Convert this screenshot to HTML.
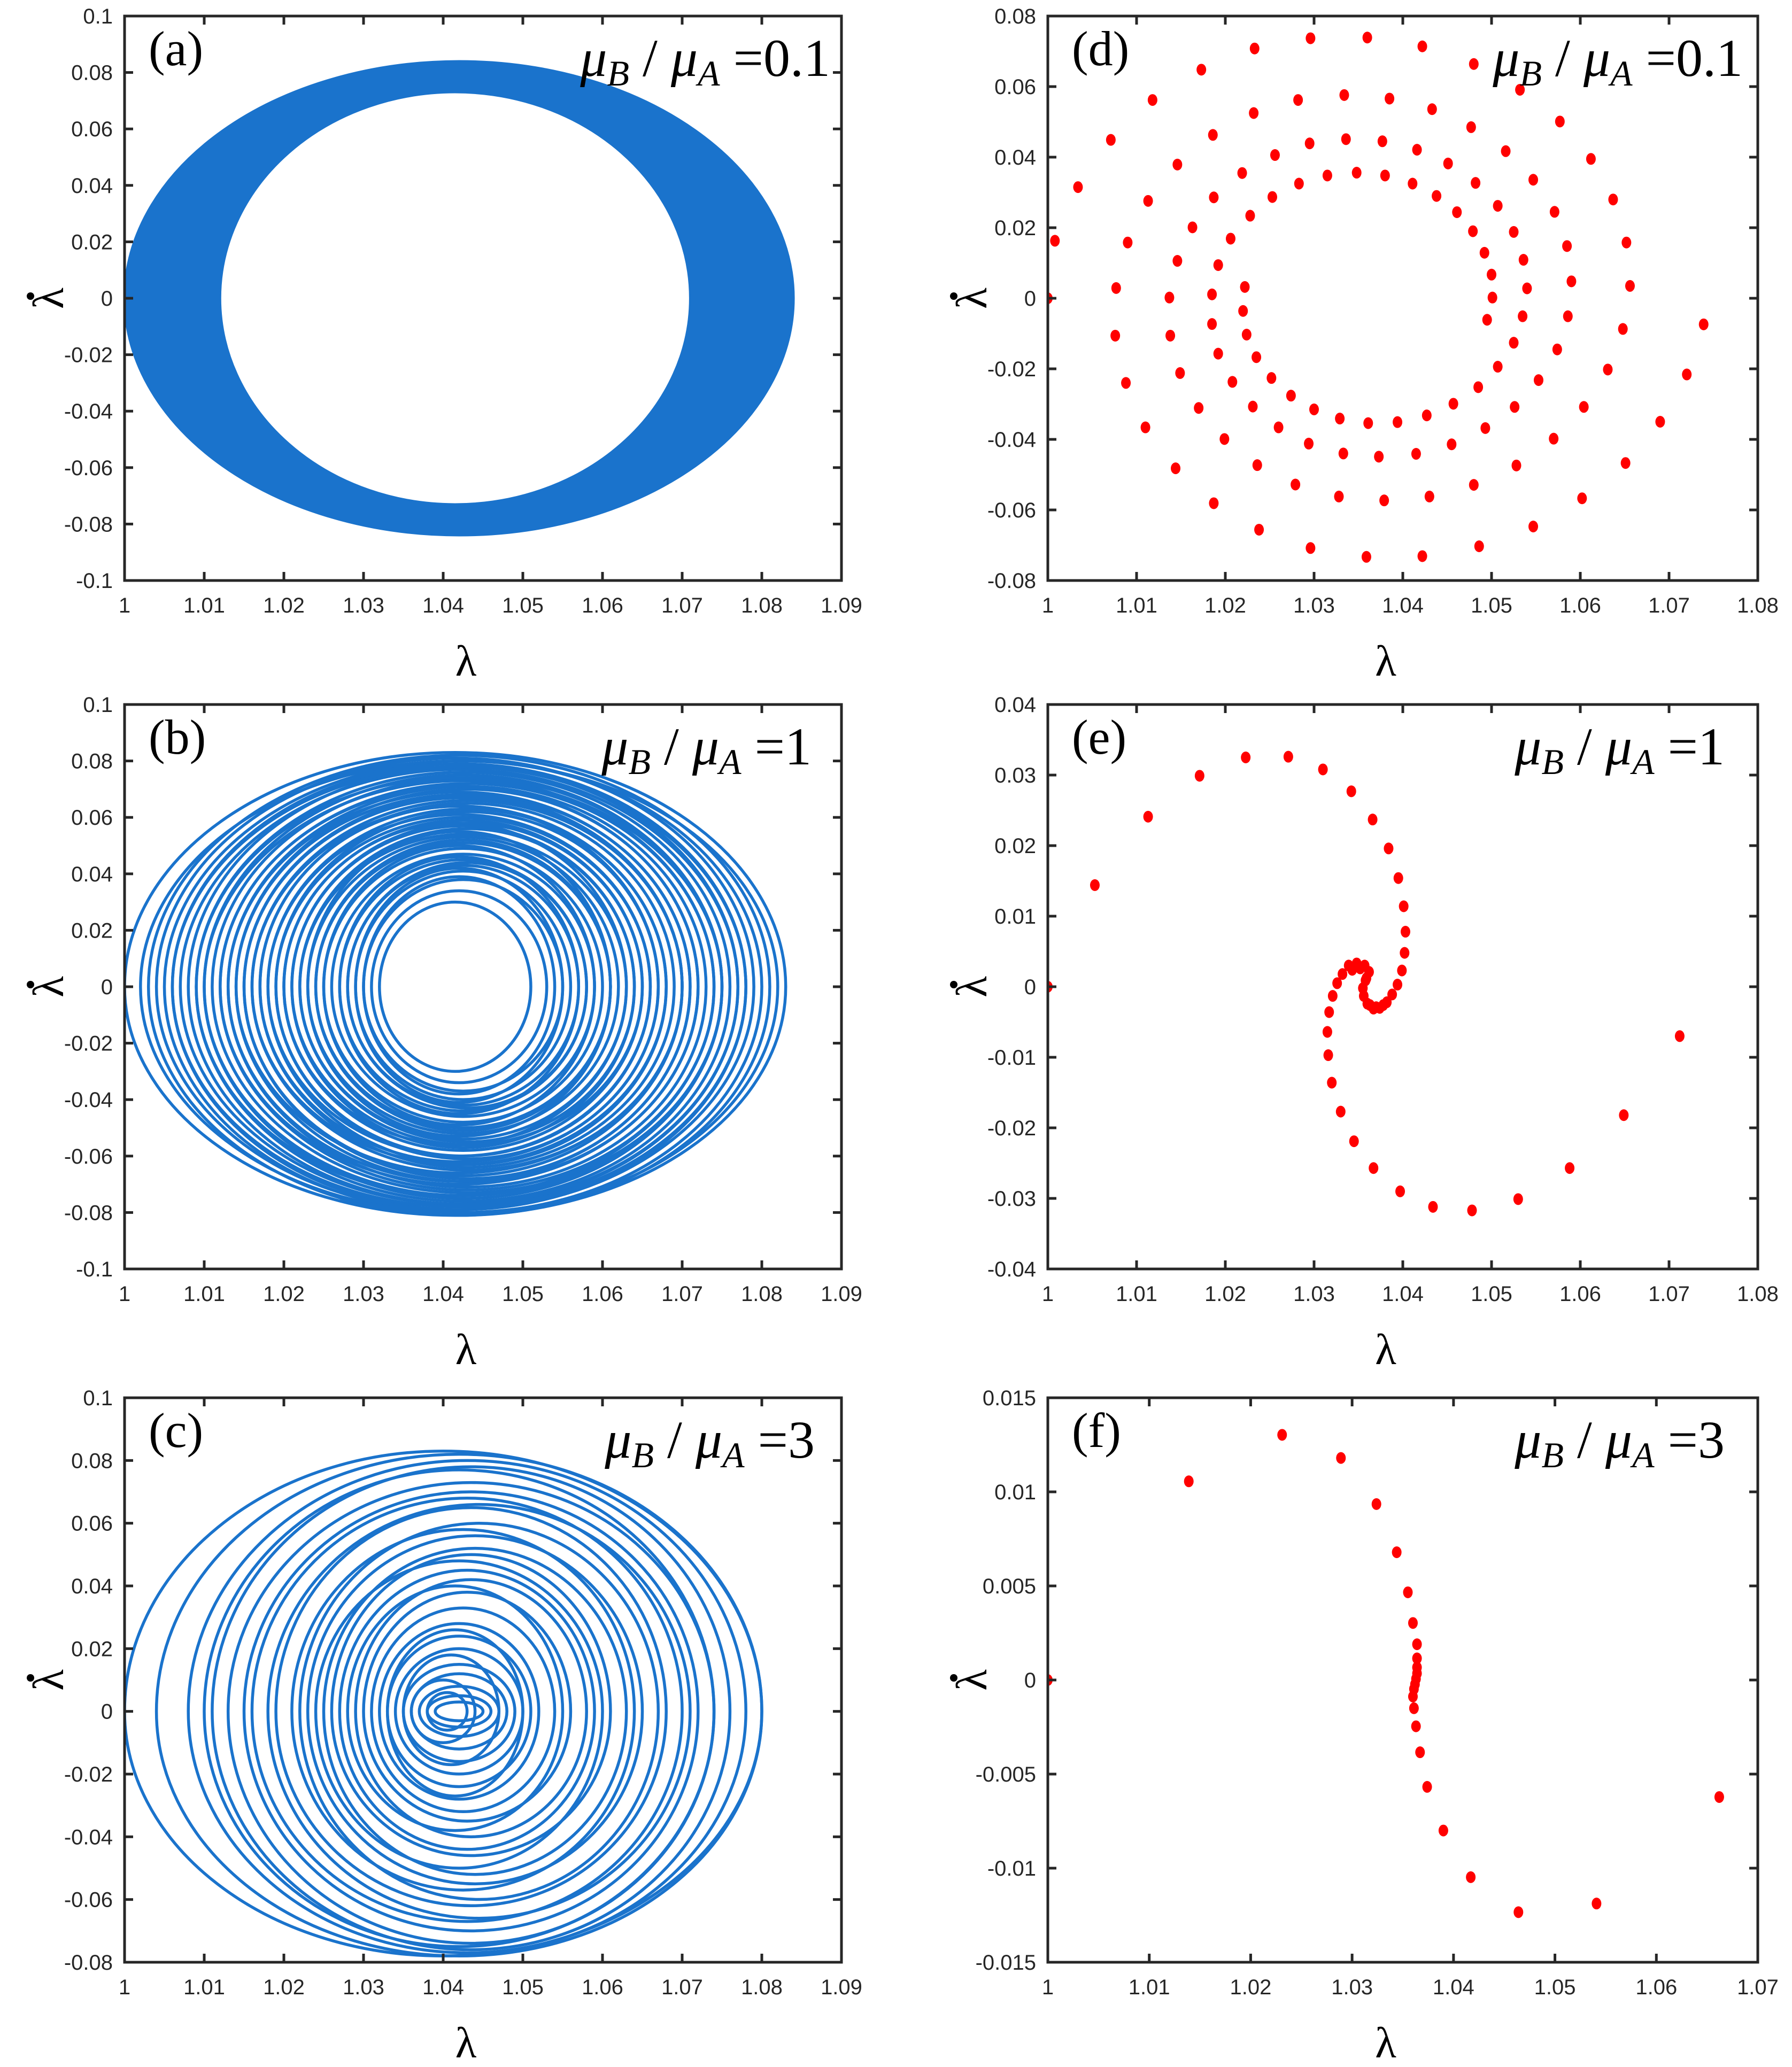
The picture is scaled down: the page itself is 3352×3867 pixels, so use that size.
<!DOCTYPE html>
<html><head><meta charset="utf-8"><style>
html,body{margin:0;padding:0;background:#fff;}
svg{display:block;}
</style></head><body>
<svg id="fig" width="3352" height="3867" viewBox="0 0 3352 3867" xmlns="http://www.w3.org/2000/svg"></svg>
<script>
// ---------- tick arrays ----------
const xTicks109 = [1,1.01,1.02,1.03,1.04,1.05,1.06,1.07,1.08,1.09];
const xTicks108 = [1,1.01,1.02,1.03,1.04,1.05,1.06,1.07,1.08];
const xTicks107 = [1,1.01,1.02,1.03,1.04,1.05,1.06,1.07];
const yTicksAB = [-0.1,-0.08,-0.06,-0.04,-0.02,0,0.02,0.04,0.06,0.08,0.1];
const yTicksC = [-0.08,-0.06,-0.04,-0.02,0,0.02,0.04,0.06,0.08,0.1];
const yTicksD = [-0.08,-0.06,-0.04,-0.02,0,0.02,0.04,0.06,0.08];
const yTicksE = [-0.04,-0.03,-0.02,-0.01,0,0.01,0.02,0.03,0.04];
const yTicksF = [-0.015,-0.01,-0.005,0,0.005,0.01,0.015];

// ---------- panel (a): band bounds (thousandths offsets: lambda-1, lambdaDot) ----------
const aOuter = [0, 84, 84, -84];   // xL, xR, yTop, yBot
const aInner = [12, 71, 73, -73];

// ---------- panel (b): loops (thousandths) ----------
const bXL = [0,3,5,6,8,9,10,11,12,13,14,15,15,16,17,18,19,19,20,21,22,22,23,24,25,26,27,28,29,30,31,32,4,7,9,12,14,16,18,20,23,25,27,29,30,2,6,10,13,17,21,24,28];
const bXR = [83,81,80,78,77,76,75,75,74,73,72,71,70,70,69,68,67,66,65,64,64,63,62,61,60,59,58,57,56,55,53,51,79,77,74,72,70,68,66,63,61,59,57,55,54,82,78,75,71,67,65,61,58];
const bYT = [83,82,80,79,78,76,75,74,72,71,70,68,67,66,65,63,62,60,59,57,56,54,53,51,49,47,45,43,41,38,34,30,81,77,74,71,68,64,61,58,55,50,46,42,39,80,78,73,69,64,58,52,44];
const bYB = [-81,-81,-80,-79,-77,-76,-75,-73,-72,-71,-69,-68,-67,-65,-64,-63,-61,-60,-58,-57,-55,-54,-52,-50,-48,-46,-44,-42,-40,-37,-34,-30,-79,-77,-74,-70,-66,-63,-60,-56,-53,-49,-45,-41,-38,-80,-78,-74,-69,-62,-56,-51,-43];

// ---------- panel (c): loops (thousandths) ----------
const cXL = [0,4,8,11,13,15,18,19,22,23,25,26,27,29,30,31,32,33,34,35,36,37,38,39,36,38,10,16,21,24,28,33,35];
const cXR = [80,80,78,76,74,72,71,68,67,65,63,61,59,58,56,54,52,51,50,49,48,47,46,45,44,43,74,70,64,60,55,50,47];
const cYT = [83,82,80,78,73,70,66,65,60,56,52,50,45,42,38,33,28,24,20,15,12,8,5,3,10,6,77,68,58,48,40,26,18];
const cYB = [-78,-78,-77,-76,-74,-70,-66,-62,-60,-55,-52,-46,-44,-40,-35,-32,-28,-24,-20,-16,-12,-8,-5,-3,-10,-6,-75,-67,-57,-50,-38,-27,-17];

// ---------- panel (d): Poincare points (thousandths) ----------
const dX = [0,0.8,3.4,7.1,11.8,17.3,23.3,29.6,36.0,42.2,48.0,53.2,57.7,61.2,63.7,65.2,65.6,64.8,63.1,60.4,57.0,52.8,48.0,43.0,37.9,32.8,27.9,23.6,19.9,17.0,14.9,13.8,13.7,14.6,16.3,18.6,23.2,28.2,33.4,38.5,43.3,47.7,51.6,54.7,57.1,58.5,59.0,58.6,57.4,55.3,52.6,49.3,45.5,41.5,37.3,33.3,29.4,26.0,23.1,20.8,19.2,18.5,18.5,19.2,20.6,14.6,11.3,9.0,7.7,7.6,8.8,11.0,14.4,18.7,23.8,29.6,35.9,42.2,48.6,54.7,60.2,65.1,69.0,72.0,73.9,18.7,21.9,25.6,29.5,33.6,37.7,41.6,45.1,48.2,50.7,52.5,53.6,54.0,53.5,52.5,50.7,48.5,45.7,42.7,25.3,28.3,31.5,34.8,38.0,41.1,43.8,46.1,47.9,49.2,50.0,50.1,49.5,39.4,36.1,32.9,30.0,27.4,25.2,23.5,22.4,22.0,22.2,22.8];
const dY = [0,16.3,31.5,44.9,56.2,64.8,70.8,73.7,73.9,71.4,66.4,59.1,50.1,39.5,28.0,15.8,3.5,-8.7,-20.2,-30.8,-39.8,-47.4,-52.9,-56.2,-57.3,-56.2,-52.8,-47.3,-39.9,-31.1,-21.2,-10.6,0.2,10.6,20.1,46.3,52.5,56.2,57.6,56.6,53.6,48.5,41.7,33.6,24.5,14.8,4.8,-5.1,-14.5,-23.2,-30.8,-36.8,-41.4,-44.1,-44.9,-44.0,-41.2,-36.6,-30.7,-23.7,-15.7,-7.3,1.1,9.4,16.9,37.9,27.6,15.8,2.9,-10.6,-24.0,-36.6,-48.2,-58.1,-65.6,-70.8,-73.3,-73.1,-70.3,-64.7,-56.7,-46.7,-35.0,-21.6,-7.4,28.6,35.5,40.6,43.9,45.1,44.5,42.1,38.2,32.7,26.2,18.8,10.9,2.8,-5.1,-12.6,-19.4,-25.2,-29.9,-33.2,28.7,32.5,34.8,35.6,34.8,32.5,29.0,24.4,19.0,12.9,6.7,0.2,-6.1,-35.1,-35.4,-34.1,-31.5,-27.6,-22.6,-16.7,-10.3,-3.6,3.2,23.4];

// ---------- panel (e) ----------
const eX = [0,5.3,11.3,17.1,22.3,27.1,31.0,34.2,36.6,38.4,39.5,40.1,40.3,40.2,39.9,39.4,38.8,38.2,37.4,36.7,36.0,35.6,35.5,35.8,36.2,35.7,34.8,33.9,33.2,32.6,32.1,31.7,31.5,31.6,32.0,33.0,34.5,36.7,39.7,43.4,47.8,53.0,58.8,64.9,71.2,37.0,36.3,35.2,34.3,35.9,37.8];
const eY = [0,14.4,24.1,29.9,32.5,32.6,30.8,27.7,23.7,19.6,15.4,11.4,7.8,4.8,2.3,0.3,-1.1,-2.2,-3.0,-3.1,-2.4,-1.3,-0.2,0.9,2.1,3.0,3.3,3.0,1.8,0.5,-1.3,-3.6,-6.4,-9.7,-13.6,-17.7,-21.9,-25.7,-29.0,-31.2,-31.7,-30.1,-25.7,-18.2,-7.0,-2.9,-2.6,2.6,2.4,1.2,-2.6];

// ---------- panel (f) ----------
const fX = [0,13.9,23.1,28.9,32.4,34.4,35.5,36.0,36.4,36.4,36.4,36.4,36.3,36.2,36.1,36.0,36.1,36.3,36.7,37.4,39.0,41.7,46.4,54.1,66.2];
const fY = [0,10.56,13.03,11.8,9.35,6.79,4.66,3.03,1.90,1.15,0.67,0.35,0.06,-0.23,-0.48,-0.88,-1.50,-2.46,-3.84,-5.68,-8.00,-10.48,-12.34,-11.88,-6.22];

// ---------- drawing ----------
const NS = "http://www.w3.org/2000/svg";
const svg = document.getElementById('fig');
const AX = "#262626", BLUE = "#1a73cc", RED = "#ff0000";
function mk(tag, attrs, parent){
  const e = document.createElementNS(NS, tag);
  for (const k in attrs) e.setAttribute(k, attrs[k]);
  (parent||svg).appendChild(e);
  return e;
}
function fmt(v){ return String(parseFloat(v.toFixed(4))); }

function makePanel(o){
  const g = mk('g', {});
  
  
  const sx = v => o.L + (v - o.x0) / (o.x1 - o.x0) * o.W;
  const sy = v => o.T + (o.y1 - v) / (o.y1 - o.y0) * o.H;
  o.sx = sx; o.sy = sy; o.g = g;
  const clip = mk('clipPath', {id: 'clip-' + o.id}, g);
  mk('rect', {x:o.L, y:o.T, width:o.W, height:o.H}, clip);
  o.plot = mk('g', {'clip-path':'url(#clip-' + o.id + ')'}, g);
  
  
  return o;
}
function finishPanel(o){
  const g = o.g;
  const ax = mk('g', {}, g);
  
  
  mk('rect', {x:o.L, y:o.T, width:o.W, height:o.H, fill:'none', stroke:AX, 'stroke-width':5}, ax);
  const tl = 16;
  o.xt.forEach(v => {
    const x = o.sx(v);
    mk('line', {x1:x, y1:o.T+o.H, x2:x, y2:o.T+o.H-tl, stroke:AX, 'stroke-width':5}, ax);
    mk('line', {x1:x, y1:o.T, x2:x, y2:o.T+tl, stroke:AX, 'stroke-width':5}, ax);
    const t = mk('text', {x:x, y:o.T+o.H+60, 'text-anchor':'middle', 'font-family':'Liberation Sans, Arial, sans-serif', 'font-size':40, fill:AX}, ax);
    t.textContent = fmt(v);
    
    
  });
  o.yt.forEach(v => {
    const y = o.sy(v);
    mk('line', {x1:o.L, y1:y, x2:o.L+tl, y2:y, stroke:AX, 'stroke-width':5}, ax);
    mk('line', {x1:o.L+o.W, y1:y, x2:o.L+o.W-tl, y2:y, stroke:AX, 'stroke-width':5}, ax);
    const t = mk('text', {x:o.L-22, y:y+14, 'text-anchor':'end', 'font-family':'Liberation Sans, Arial, sans-serif', 'font-size':40, fill:AX}, ax);
    t.textContent = fmt(v);
    
    
  });
  // x axis title
  const xl = mk('text', {x:o.L+o.W/2-32, y:o.T+o.H+178, 'text-anchor':'middle', 'font-family':'Liberation Serif, Times New Roman, serif', 'font-size':82, fill:'#000'}, g);
  xl.textContent = 'λ';
  
  
  // y axis title (lambda-dot)
  const cy = o.T + o.H/2;
  const yl = mk('text', {x:0, y:0, 'text-anchor':'middle', 'font-family':'Liberation Serif, Times New Roman, serif', 'font-size':82, fill:'#000', transform:'translate(' + (o.L-115) + ',' + cy + ') rotate(-90)'}, g);
  yl.textContent = 'λ';
  
  
  const dot = mk('circle', {cx:o.L-176, cy:cy-4, r:7, fill:'#000'}, g);
  
  
  // panel label
  const pl = mk('text', {x:o.L+45, y:o.T+92, 'font-family':'Liberation Serif, Times New Roman, serif', 'font-size':92, fill:'#000'}, g);
  pl.textContent = '(' + o.id + ')';
  
  
  // ratio annotation
  const ra = mk('text', {x:o.ratioX, y:o.T+112, 'text-anchor':'end', 'font-family':'Liberation Serif, Times New Roman, serif', 'font-size':100, fill:'#000'}, g);
  
  
  const parts = [['μ','italic',0],['B','italic',1],[' / ','normal',0],['μ','italic',0],['A','italic',1],[' =' + o.ratio,'normal',0]];
  parts.forEach((p, i) => {
    const ts = mk('tspan', {'font-style':p[1]}, ra);
    if (p[2]) { ts.setAttribute('font-size', 68); ts.setAttribute('dy', 18); }
    else if (i > 0 && parts[i-1][2]) { ts.setAttribute('dy', -18); }
    ts.textContent = p[0];
  });
}
function loopPath(o, xl, xr, yt, yb){
  const L = o.sx(1 + xl/1000), R = o.sx(1 + xr/1000), Y0 = o.sy(0);
  const rx = (R - L)/2;
  const rt = Y0 - o.sy(yt/1000), rb = o.sy(yb/1000) - Y0;
  return 'M' + L + ',' + Y0 + ' A' + rx + ',' + rt + ' 0 0 1 ' + R + ',' + Y0 + ' A' + rx + ',' + rb + ' 0 0 1 ' + L + ',' + Y0 + ' ';
}
function drawLoops(o, XL, XR, YT, YB){
  for (let i = 0; i < XL.length; i++){
    const p = mk('path', {d: loopPath(o, XL[i], XR[i], YT[i], YB[i]), fill:'none', stroke:BLUE, 'stroke-width':5.5}, o.plot);
    
    
  }
}
function drawDots(o, X, Y){
  for (let i = 0; i < X.length; i++){
    const c = mk('ellipse', {cx:o.sx(1 + X[i]/1000), cy:o.sy(Y[i]/1000), rx:9, ry:11, fill:RED}, o.plot);
    
    
  }
}

// Panel a
const pa = makePanel({id:'a', L:233, T:30, W:1341, H:1056, x0:1, x1:1.09, y0:-0.1, y1:0.1, xt:xTicks109, yt:yTicksAB, ratio:'0.1', ratioX:1553});
const band = mk('path', {d: loopPath(pa, aOuter[0], aOuter[1], aOuter[2], aOuter[3]) + loopPath(pa, aInner[0], aInner[1], aInner[2], aInner[3]), fill:BLUE, 'fill-rule':'evenodd', stroke:BLUE, 'stroke-width':4}, pa.plot);


finishPanel(pa);

// Panel b
const pb = makePanel({id:'b', L:233, T:1318, W:1341, H:1056, x0:1, x1:1.09, y0:-0.1, y1:0.1, xt:xTicks109, yt:yTicksAB, ratio:'1', ratioX:1518});
drawLoops(pb, bXL, bXR, bYT, bYB);
finishPanel(pb);

// Panel c
const pc = makePanel({id:'c', L:233, T:2615, W:1341, H:1056, x0:1, x1:1.09, y0:-0.08, y1:0.1, xt:xTicks109, yt:yTicksC, ratio:'3', ratioX:1524});
drawLoops(pc, cXL, cXR, cYT, cYB);
finishPanel(pc);

// Panel d
const pd = makePanel({id:'d', L:1960, T:30, W:1328, H:1056, x0:1, x1:1.08, y0:-0.08, y1:0.08, xt:xTicks108, yt:yTicksD, ratio:'0.1', ratioX:3260});
drawDots(pd, dX, dY);
finishPanel(pd);

// Panel e
const pe = makePanel({id:'e', L:1960, T:1318, W:1328, H:1056, x0:1, x1:1.08, y0:-0.04, y1:0.04, xt:xTicks108, yt:yTicksE, ratio:'1', ratioX:3226});
drawDots(pe, eX, eY);
finishPanel(pe);

// Panel f
const pf = makePanel({id:'f', L:1960, T:2615, W:1328, H:1056, x0:1, x1:1.07, y0:-0.015, y1:0.015, xt:xTicks107, yt:yTicksF, ratio:'3', ratioX:3226});
drawDots(pf, fX, fY);
finishPanel(pf);
</script>
</body></html>
